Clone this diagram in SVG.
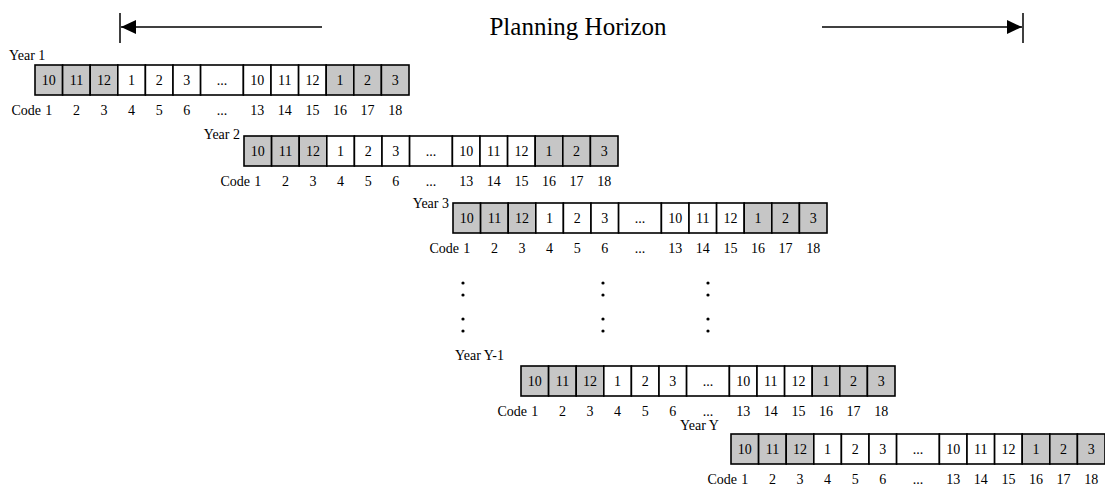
<svg xmlns="http://www.w3.org/2000/svg" width="1105" height="489" viewBox="0 0 1105 489">
<style>
text{font-family:"Liberation Serif","Times New Roman",serif;fill:#000}
.c{font-size:14px;text-anchor:middle}
.l{font-size:14px}
.g{fill:#c6c6c6;stroke:#000;stroke-width:1.6}
.w{fill:#fff;stroke:#000;stroke-width:1.6}
.ln{stroke:#000;stroke-width:1.5;fill:none}
</style>
<defs>
<marker id="ah" markerWidth="16" markerHeight="14" refX="15" refY="7" orient="auto" markerUnits="userSpaceOnUse">
<path d="M0,0 L15,7 L0,14 z" fill="#000"/>
</marker>
<g id="row">
<rect class="g" x="0" y="0" width="27.6" height="30"/>
<rect class="g" x="27.6" y="0" width="27.6" height="30"/>
<rect class="g" x="55.2" y="0" width="27.6" height="30"/>
<rect class="w" x="82.8" y="0" width="27.6" height="30"/>
<rect class="w" x="110.4" y="0" width="27.6" height="30"/>
<rect class="w" x="138" y="0" width="27.6" height="30"/>
<rect class="w" x="165.6" y="0" width="42.8" height="30"/>
<rect class="w" x="208.4" y="0" width="27.6" height="30"/>
<rect class="w" x="236" y="0" width="27.6" height="30"/>
<rect class="w" x="263.6" y="0" width="27.6" height="30"/>
<rect class="g" x="291.2" y="0" width="27.6" height="30"/>
<rect class="g" x="318.8" y="0" width="27.6" height="30"/>
<rect class="g" x="346.4" y="0" width="27.6" height="30"/>
<text class="c" x="13.8" y="20">10</text>
<text class="c" x="41.4" y="20">11</text>
<text class="c" x="69" y="20">12</text>
<text class="c" x="96.6" y="20">1</text>
<text class="c" x="124.2" y="20">2</text>
<text class="c" x="151.8" y="20">3</text>
<text class="c" x="187" y="20">...</text>
<text class="c" x="222.2" y="20">10</text>
<text class="c" x="249.8" y="20">11</text>
<text class="c" x="277.4" y="20">12</text>
<text class="c" x="305" y="20">1</text>
<text class="c" x="332.6" y="20">2</text>
<text class="c" x="360.2" y="20">3</text>
<text class="l" x="6" y="50" text-anchor="end">Code</text>
<text class="c" x="13.8" y="50">1</text>
<text class="c" x="41.4" y="50">2</text>
<text class="c" x="69" y="50">3</text>
<text class="c" x="96.6" y="50">4</text>
<text class="c" x="124.2" y="50">5</text>
<text class="c" x="151.8" y="50">6</text>
<text class="c" x="187" y="50">...</text>
<text class="c" x="222.2" y="50">13</text>
<text class="c" x="249.8" y="50">14</text>
<text class="c" x="277.4" y="50">15</text>
<text class="c" x="305" y="50">16</text>
<text class="c" x="332.6" y="50">17</text>
<text class="c" x="360.2" y="50">18</text>
</g>
</defs>
<g id="connectors">
<line class="ln" x1="120" y1="13" x2="120" y2="43"/>
<line class="ln" x1="322" y1="27" x2="121" y2="27" marker-end="url(#ah)"/>
<line class="ln" x1="1023" y1="13" x2="1023" y2="43"/>
<line class="ln" x1="822" y1="27" x2="1022" y2="27" marker-end="url(#ah)"/>
</g>
<g id="title"><text x="578" y="35" font-size="25" text-anchor="middle">Planning Horizon</text></g>
<g id="year1">
<text class="l" x="9" y="60">Year 1</text>
<use href="#row" x="35" y="65"/>
</g>
<g id="year2">
<text class="l" x="240" y="139" text-anchor="end">Year 2</text>
<use href="#row" x="244" y="136"/>
</g>
<g id="year3">
<text class="l" x="449" y="208" text-anchor="end">Year 3</text>
<use href="#row" x="453" y="203"/>
</g>
<g id="ellipsis">
<g fill="#000">
<circle cx="463" cy="283" r="1.6"/><circle cx="463" cy="295" r="1.6"/>
<circle cx="463" cy="319" r="1.6"/><circle cx="463" cy="331" r="1.6"/>
<circle cx="603" cy="283" r="1.6"/><circle cx="603" cy="295" r="1.6"/>
<circle cx="603" cy="319" r="1.6"/><circle cx="603" cy="331" r="1.6"/>
<circle cx="708" cy="283" r="1.6"/><circle cx="708" cy="295" r="1.6"/>
<circle cx="708" cy="319" r="1.6"/><circle cx="708" cy="331" r="1.6"/>
</g>
</g>
<g id="yearY-1">
<text class="l" x="455" y="360">Year Y-1</text>
<use href="#row" x="521" y="366"/>
</g>
<g id="yearY">
<text class="l" x="680" y="430">Year Y</text>
<use href="#row" x="731" y="434"/>
</g>
</svg>
